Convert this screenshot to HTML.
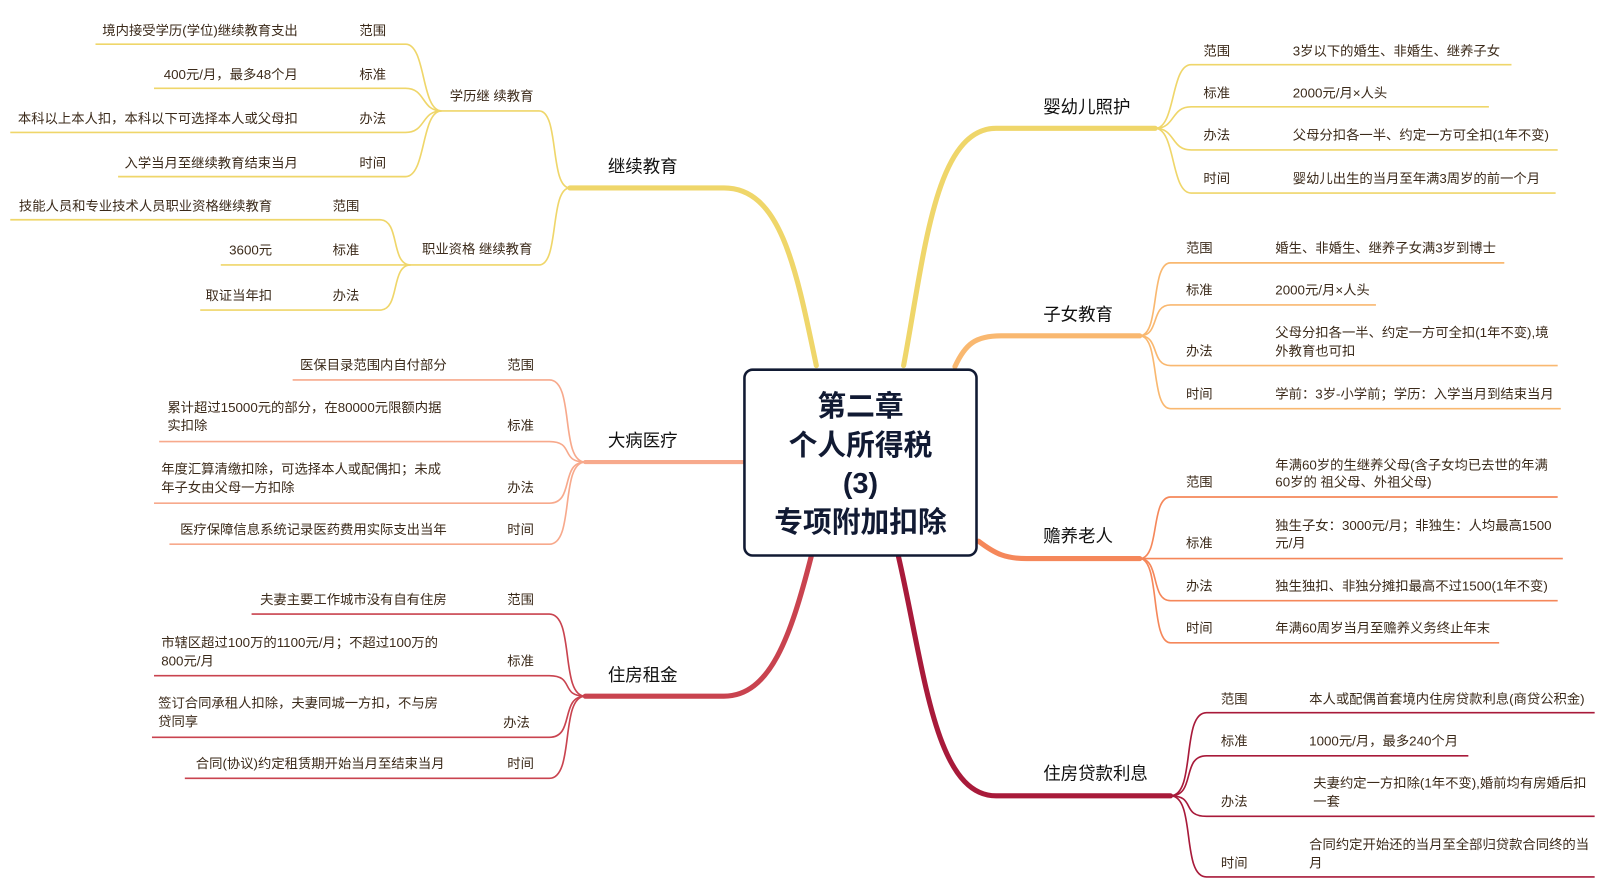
<!DOCTYPE html>
<html><head><meta charset="utf-8"><style>
html,body{margin:0;padding:0;background:#fff;}
svg{display:block;font-family:"Liberation Sans","Noto Sans CJK SC",sans-serif;}
.l{font-size:13px;fill:#3b2a1a;}
.b{font-size:17px;fill:#111;}
.c{font-size:28px;font-weight:bold;fill:#111a33;}
</style></head><body>
<svg width="1608" height="891" viewBox="0 0 1566 867.7" preserveAspectRatio="none">
<g fill="none" stroke-linecap="round">
<path d="M880 356 C900 250 910 125 970 125 L1125 125" stroke="#efd66a" stroke-width="5"/>
<path d="M930 357 C940 335 950 327 975 327 L1110 327" stroke="#f9b870" stroke-width="5"/>
<path d="M953 527 C970 540 980 544 1000 544 L1110 544" stroke="#f5875a" stroke-width="5"/>
<path d="M875 542 C900 650 910 775 970 775 L1140 775" stroke="#a81a3a" stroke-width="5"/>
<path d="M795 356 C775 260 760 183 705 183 L555 183" stroke="#efd66a" stroke-width="5"/>
<path d="M725 450 L570 450" stroke="#f7a98c" stroke-width="4"/>
<path d="M790 542 C770 620 750 678 705 678 L570 678" stroke="#c9434f" stroke-width="5"/>
</g>
<g fill="none" stroke-width="1.6">
<g stroke="#efd66a">
<path d="M1125 125 C1145 125 1140 63 1160 63 L1472 63"/>
<path d="M1125 125 C1145 125 1140 104 1160 104 L1450 104"/>
<path d="M1125 125 C1145 125 1140 146 1160 146 L1517 146"/>
<path d="M1125 125 C1145 125 1140 188 1160 188 L1515 188"/>
</g>
<g stroke="#f9b870">
<path d="M1110 327 C1130 327 1120 256 1140 256 L1465 256"/>
<path d="M1110 327 C1130 327 1120 297 1140 297 L1340 297"/>
<path d="M1110 327 C1130 327 1120 356 1140 356 L1517 356"/>
<path d="M1110 327 C1130 327 1120 398 1140 398 L1520 398"/>
</g>
<g stroke="#f5875a">
<path d="M1110 544 C1130 544 1120 484 1140 484 L1517 484"/>
<path d="M1110 544 L1522 544"/>
<path d="M1110 544 C1130 544 1120 585 1140 585 L1517 585"/>
<path d="M1110 544 C1130 544 1120 626 1140 626 L1460 626"/>
</g>
<g stroke="#a81a3a">
<path d="M1140 775 C1165 775 1150 694 1175 694 L1553 694"/>
<path d="M1140 775 C1165 775 1150 736 1175 736 L1430 736"/>
<path d="M1140 775 C1165 775 1150 795 1175 795 L1553 795"/>
<path d="M1140 775 C1165 775 1150 854 1175 854 L1553 854"/>
</g>
<g stroke="#efd66a">
<path d="M555 183 C535 183 545 108 525 108 L430 108"/>
<path d="M555 183 C535 183 545 258 525 258 L400 258"/>
<path d="M430 108 C410 108 415 43 395 43 L93 43"/>
<path d="M430 108 C410 108 415 86 395 86 L150 86"/>
<path d="M430 108 C410 108 415 129 395 129 L10 129"/>
<path d="M430 108 C410 108 415 172 395 172 L115 172"/>
<path d="M400 258 C380 258 390 214 370 214 L10 214"/>
<path d="M400 258 L215 258"/>
<path d="M400 258 C380 258 390 302 370 302 L195 302"/>
</g>
<g stroke="#f7a98c">
<path d="M570 450 C545 450 560 370 535 370 L285 370"/>
<path d="M570 450 C545 450 560 430 535 430 L155 430"/>
<path d="M570 450 C545 450 560 490 535 490 L150 490"/>
<path d="M570 450 C545 450 560 530 535 530 L165 530"/>
</g>
<g stroke="#c9434f">
<path d="M570 678 C545 678 560 598 535 598 L245 598"/>
<path d="M570 678 C545 678 560 658 535 658 L150 658"/>
<path d="M570 678 C545 678 560 718 535 718 L148 718"/>
<path d="M570 678 C545 678 560 758 535 758 L180 758"/>
</g>
</g>
<rect x="725" y="360" width="226" height="181" rx="8" fill="#fff" stroke="#111a33" stroke-width="2.5"/>
<g class="c" text-anchor="middle">
<text x="838" y="405">第二章</text>
<text x="838" y="443">个人所得税</text>
<text x="838" y="480">(3)</text>
<text x="838" y="518">专项附加扣除</text>
</g>
<g class="b">
<text x="1016" y="110">婴幼儿照护</text>
<text x="1016" y="312">子女教育</text>
<text x="1016" y="528">赡养老人</text>
<text x="1016" y="759">住房贷款利息</text>
<text x="592" y="168">继续教育</text>
<text x="592" y="435">大病医疗</text>
<text x="592" y="663">住房租金</text>
</g>
<g class="l">
<text x="1172" y="54">范围</text><text x="1259" y="54">3岁以下的婚生、非婚生、继养子女</text>
<text x="1172" y="95">标准</text><text x="1259" y="95">2000元/月×人头</text>
<text x="1172" y="136">办法</text><text x="1259" y="136">父母分扣各一半、约定一方可全扣(1年不变)</text>
<text x="1172" y="178">时间</text><text x="1259" y="178">婴幼儿出生的当月至年满3周岁的前一个月</text>
<text x="1155" y="246">范围</text><text x="1242" y="246">婚生、非婚生、继养子女满3岁到博士</text>
<text x="1155" y="287">标准</text><text x="1242" y="287">2000元/月×人头</text>
<text x="1155" y="346">办法</text><text x="1242" y="328">父母分扣各一半、约定一方可全扣(1年不变),境</text><text x="1242" y="346">外教育也可扣</text>
<text x="1155" y="388">时间</text><text x="1242" y="388">学前：3岁-小学前；学历：入学当月到结束当月</text>
<text x="1155" y="474">范围</text><text x="1242" y="457">年满60岁的生继养父母(含子女均已去世的年满</text><text x="1242" y="474">60岁的 祖父母、外祖父母)</text>
<text x="1155" y="533">标准</text><text x="1242" y="516">独生子女：3000元/月；非独生：人均最高1500</text><text x="1242" y="533">元/月</text>
<text x="1155" y="575">办法</text><text x="1242" y="575">独生独扣、非独分摊扣最高不过1500(1年不变)</text>
<text x="1155" y="616">时间</text><text x="1242" y="616">年满60周岁当月至赡养义务终止年末</text>
<text x="1189" y="685">范围</text><text x="1275" y="685">本人或配偶首套境内住房贷款利息(商贷公积金)</text>
<text x="1189" y="726">标准</text><text x="1275" y="726">1000元/月，最多240个月</text>
<text x="1189" y="785">办法</text><text x="1279" y="767">夫妻约定一方扣除(1年不变),婚前均有房婚后扣</text><text x="1279" y="785">一套</text>
<text x="1189" y="845">时间</text><text x="1275" y="827">合同约定开始还的当月至全部归贷款合同终的当</text><text x="1275" y="845">月</text>
<text x="438" y="98">学历继 续教育</text>
<text x="411" y="247">职业资格 继续教育</text>
<text x="350" y="34">范围</text><text x="290" y="34" text-anchor="end">境内接受学历(学位)继续教育支出</text>
<text x="350" y="77">标准</text><text x="290" y="77" text-anchor="end">400元/月，最多48个月</text>
<text x="350" y="120">办法</text><text x="290" y="120" text-anchor="end">本科以上本人扣，本科以下可选择本人或父母扣</text>
<text x="350" y="163">时间</text><text x="290" y="163" text-anchor="end">入学当月至继续教育结束当月</text>
<text x="324" y="205">范围</text><text x="265" y="205" text-anchor="end">技能人员和专业技术人员职业资格继续教育</text>
<text x="324" y="248">标准</text><text x="265" y="248" text-anchor="end">3600元</text>
<text x="324" y="292">办法</text><text x="265" y="292" text-anchor="end">取证当年扣</text>
<text x="494" y="360">范围</text><text x="435" y="360" text-anchor="end">医保目录范围内自付部分</text>
<text x="494" y="419">标准</text><text x="163" y="401">累计超过15000元的部分，在80000元限额内据</text><text x="163" y="419">实扣除</text>
<text x="494" y="479">办法</text><text x="157" y="461">年度汇算清缴扣除，可选择本人或配偶扣；未成</text><text x="157" y="479">年子女由父母一方扣除</text>
<text x="494" y="520">时间</text><text x="435" y="520" text-anchor="end">医疗保障信息系统记录医药费用实际支出当年</text>
<text x="494" y="588">范围</text><text x="435" y="588" text-anchor="end">夫妻主要工作城市没有自有住房</text>
<text x="494" y="648">标准</text><text x="157" y="630">市辖区超过100万的1100元/月；不超过100万的</text><text x="157" y="648">800元/月</text>
<text x="490" y="708">办法</text><text x="154" y="689">签订合同承租人扣除，夫妻同城一方扣，不与房</text><text x="154" y="707">贷同享</text>
<text x="494" y="748">时间</text><text x="433" y="748" text-anchor="end">合同(协议)约定租赁期开始当月至结束当月</text>
</g>
</svg>
</body></html>
